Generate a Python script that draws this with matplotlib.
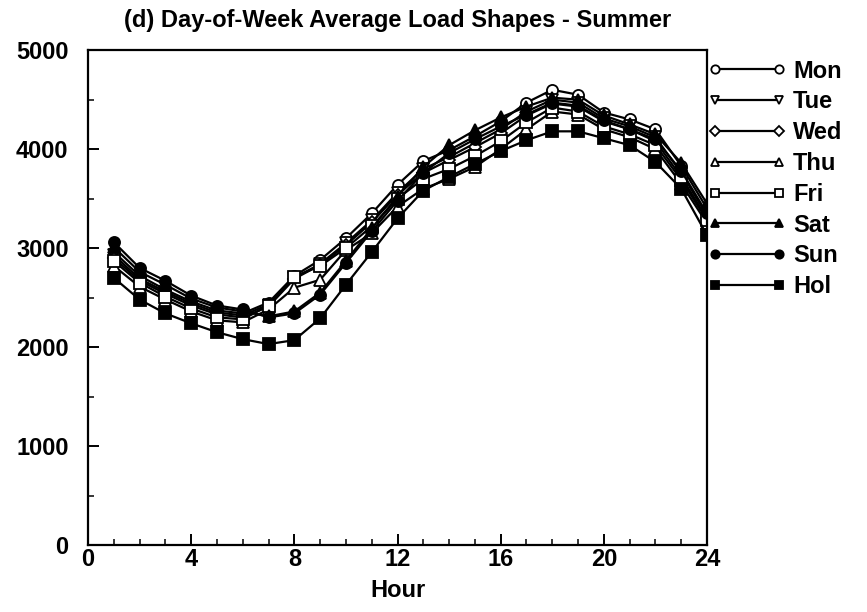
import matplotlib
matplotlib.use("Agg")
import matplotlib.pyplot as plt
from matplotlib.ticker import MultipleLocator

plt.rcParams["font.family"] = ["Liberation Sans", "DejaVu Sans"]
plt.rcParams["font.weight"] = "bold"
plt.rcParams["axes.titleweight"] = "bold"
plt.rcParams["axes.labelweight"] = "bold"

hours = list(range(1, 25))

mon = [2960, 2720, 2580, 2460, 2370, 2340, 2450, 2720, 2880, 3100, 3350, 3640,
       3880, 3990, 4130, 4280, 4470, 4600, 4550, 4370, 4300, 4200, 3830, 3400]
tue = [2930, 2690, 2560, 2440, 2350, 2320, 2430, 2700, 2840, 3050, 3280, 3560,
       3800, 3920, 4060, 4200, 4380, 4500, 4470, 4310, 4230, 4120, 3760, 3330]
wed = [2900, 2670, 2540, 2420, 2330, 2300, 2410, 2690, 2830, 3030, 3260, 3540,
       3760, 3890, 4020, 4160, 4340, 4460, 4430, 4280, 4200, 4080, 3720, 3300]
thu = [2820, 2610, 2480, 2360, 2270, 2250, 2380, 2600, 2680, 2980, 3150, 3420,
       3600, 3700, 3820, 4000, 4200, 4380, 4350, 4200, 4120, 4000, 3650, 3250]
fri = [2870, 2650, 2510, 2390, 2300, 2280, 2420, 2710, 2820, 3000, 3220, 3500,
       3700, 3800, 3930, 4080, 4270, 4420, 4380, 4230, 4150, 4040, 3690, 3280]
sat = [3010, 2760, 2630, 2490, 2400, 2360, 2310, 2360, 2550, 2870, 3200, 3520,
       3820, 4040, 4190, 4320, 4430, 4520, 4500, 4340, 4250, 4150, 3860, 3450]
sun = [3060, 2800, 2670, 2520, 2420, 2380, 2300, 2340, 2530, 2850, 3170, 3480,
       3760, 3960, 4100, 4230, 4350, 4470, 4440, 4290, 4200, 4100, 3780, 3350]
hol = [2700, 2480, 2340, 2240, 2150, 2080, 2030, 2070, 2290, 2630, 2960, 3300,
       3580, 3720, 3850, 3980, 4090, 4180, 4180, 4110, 4040, 3870, 3600, 3130]

series = [
    ("Mon", mon, "o", "white"),
    ("Tue", tue, "v", "white"),
    ("Wed", wed, "D", "white"),
    ("Thu", thu, "^", "white"),
    ("Fri", fri, "s", "white"),
    ("Sat", sat, "^", "black"),
    ("Sun", sun, "o", "black"),
    ("Hol", hol, "s", "black"),
]

fig = plt.figure(figsize=(8.67, 6.12), dpi=100)
ax = fig.add_axes([0.1015, 0.1095, 0.714, 0.8085])

for name, vals, mk, face in series:
    ms = 6.5 if mk == "D" else 8
    ax.plot(hours, vals, color="black", lw=1.6, marker=mk, markersize=ms,
            markerfacecolor=face, markeredgecolor="black", markeredgewidth=1.3,
            label=name)

ax.set_xlim(0, 24)
ax.set_ylim(0, 5000)
ax.xaxis.set_major_locator(MultipleLocator(4))
ax.xaxis.set_minor_locator(MultipleLocator(1))
ax.yaxis.set_major_locator(MultipleLocator(1000))
ax.yaxis.set_minor_locator(MultipleLocator(500))
ax.tick_params(which="both", direction="in", top=False, right=False, labelsize=17)
ax.tick_params(which="major", length=8, width=1.4)
ax.tick_params(axis="x", which="major", pad=2)
ax.tick_params(axis="y", which="major", pad=14)
ax.tick_params(which="minor", length=4, width=1.1)
for sp in ax.spines.values():
    sp.set_linewidth(1.6)

ax.set_xlabel("Hour", fontsize=17, labelpad=6)
ax.set_title("(d) Day-of-Week Average Load Shapes - Summer", fontsize=17, pad=17)

leg = fig.legend(loc="upper left", bbox_to_anchor=(0.806, 0.918), frameon=False,
                 fontsize=17, numpoints=2, handlelength=3.3, handletextpad=0.3,
                 labelspacing=0.33, markerscale=0.75, borderaxespad=0)

fig.savefig("out.png", dpi=100)
